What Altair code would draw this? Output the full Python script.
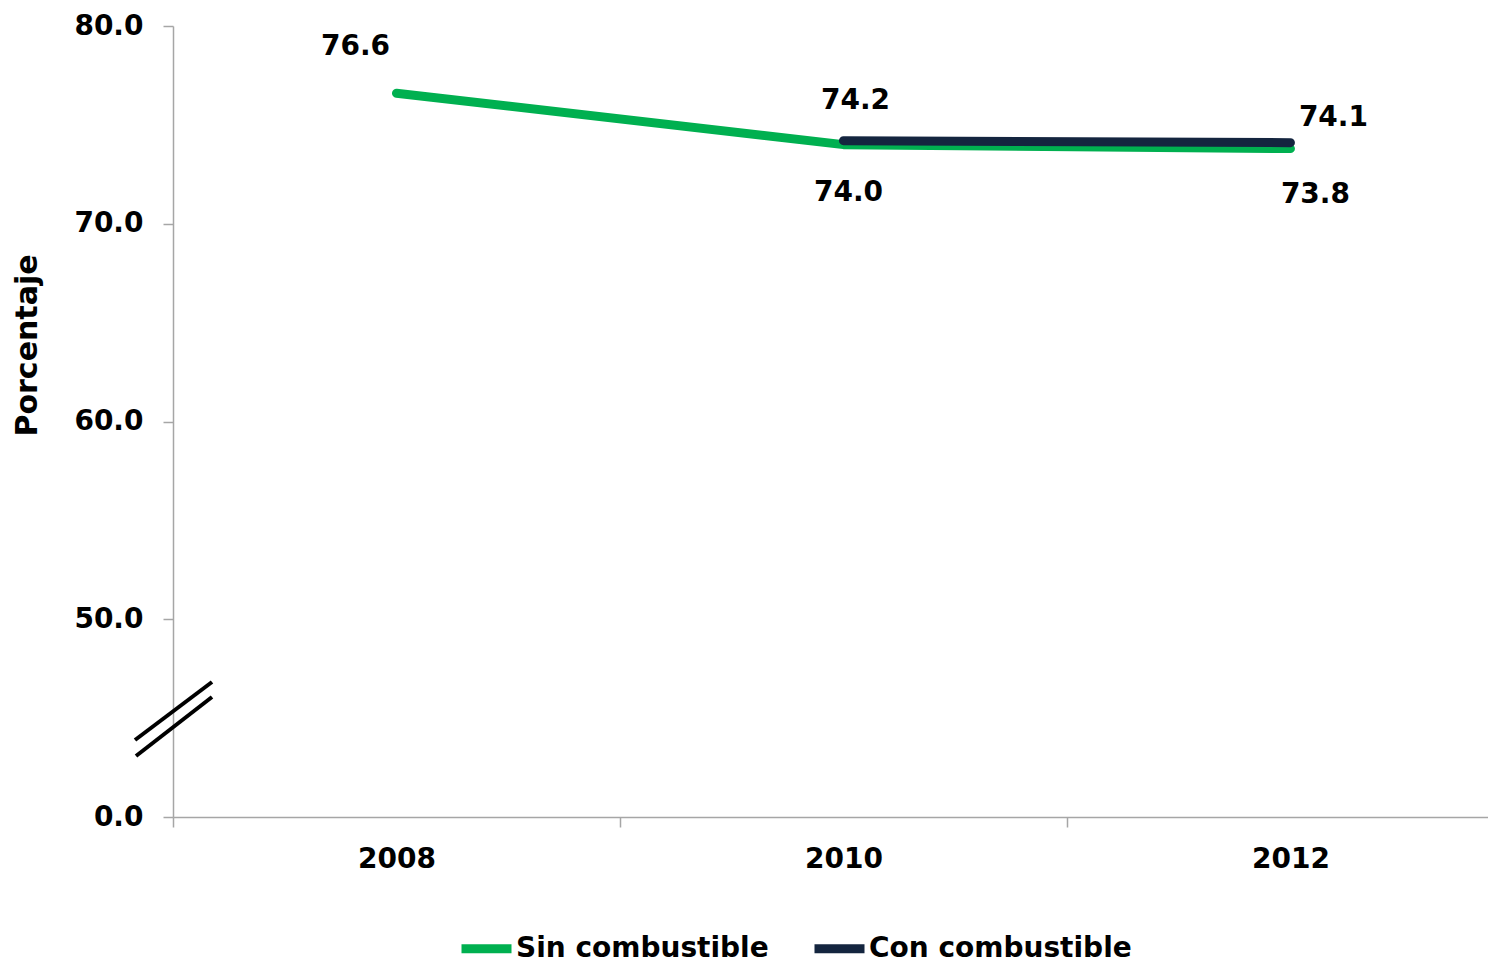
import altair as alt
import pandas as pd

years = [2008, 2010, 2012]
sin_combustible = [76.6, 74.0, 73.8]
con_combustible = [None, 74.2, 74.1]
series_names = ["Sin combustible", "Con combustible"]
colors = ["#00B050", "#14253F"]
y_ticks = [40, 50, 60, 70, 80]
x_ticks = [2007, 2008, 2009, 2010, 2011, 2012]

rows = []
for yr, v in zip(years, sin_combustible):
    if v is not None:
        rows.append({"year": yr, "value": v, "series": series_names[0]})
for yr, v in zip(years, con_combustible):
    if v is not None:
        rows.append({"year": yr, "value": v, "series": series_names[1]})
df = pd.DataFrame(rows)

FONT = "DejaVu Sans"
GRAY = "#a6a6a6"

x_enc = alt.X(
    "year:Q",
    scale=alt.Scale(domain=[2007, 2012.884], nice=False, zero=False),
    axis=alt.Axis(
        values=x_ticks,
        title=None,
        grid=False,
        labelExpr="datum.value % 2 == 0 ? format(datum.value, 'd') : ''",
        tickOpacity={"condition": {"test": "datum.value % 2 == 0", "value": 0}, "value": 1},
        tickSize=10,
        labelPadding=18,
        labelFont=FONT,
        labelFontSize=28,
        labelFontWeight="bold",
        labelColor="black",
        domainColor=GRAY,
        tickColor=GRAY,
        domainWidth=1.5,
        tickWidth=1.5,
    ),
)
y_enc = alt.Y(
    "value:Q",
    scale=alt.Scale(domain=[40, 80], nice=False, zero=False),
    axis=alt.Axis(
        values=y_ticks,
        title="Porcentaje",
        titleFont=FONT,
        titleFontSize=30,
        titleFontWeight="bold",
        titleColor="black",
        titleAngle=-90,
        titleX=-146,
        titleY=319,
        titleAlign="center",
        titleBaseline="middle",
        grid=False,
        labelExpr="datum.value == 40 ? '0.0' : format(datum.value, '.1f')",
        tickSize=10,
        labelPadding=20,
        labelFont=FONT,
        labelFontSize=28,
        labelFontWeight="bold",
        labelColor="black",
        domainColor=GRAY,
        tickColor=GRAY,
        domainWidth=1.5,
        tickWidth=1.5,
    ),
)
color_enc = alt.Color(
    "series:N",
    scale=alt.Scale(domain=series_names, range=colors),
    legend=alt.Legend(
        title=None,
        orient="none",
        legendX=284,
        legendY=893,
        direction="horizontal",
        symbolType="stroke",
        symbolSize=2500,
        symbolStrokeWidth=9,
        labelFont=FONT,
        labelFontSize=28,
        labelFontWeight="bold",
        labelColor="black",
        labelLimit=600,
        columnPadding=27,
        labelOffset=0,
    ),
)

base = alt.Chart(df)

line_sin = base.transform_filter(alt.datum.series == series_names[0]).mark_line(
    strokeWidth=9, strokeCap="round", strokeJoin="round"
).encode(x=x_enc, y=y_enc, color=color_enc)
line_con = base.transform_filter(alt.datum.series == series_names[1]).mark_line(
    strokeWidth=9, strokeCap="round", strokeJoin="round"
).encode(x=x_enc, y=y_enc, color=color_enc)

def label(series, year, dx, dy):
    return base.transform_filter(
        (alt.datum.series == series) & (alt.datum.year == year)
    ).mark_text(
        font=FONT, fontSize=28, fontWeight="bold", color="black",
        align="center", baseline="middle", dx=dx, dy=dy
    ).encode(x="year:Q", y="value:Q", text=alt.Text("value:Q", format=".1f"))

labels = [
    label(series_names[0], 2008, -41, -46),
    label(series_names[0], 2010, 5, 48),
    label(series_names[0], 2012, 25, 46),
    label(series_names[1], 2010, 12, -40),
    label(series_names[1], 2012, 43, -25),
]

brk = alt.Chart(pd.DataFrame({"k": [0]}))
break1 = brk.mark_rule(color="black", strokeWidth=4).encode(
    x=alt.value(-38), x2=alt.value(39), y=alt.value(714), y2=alt.value(656)
)
break2 = brk.mark_rule(color="black", strokeWidth=4).encode(
    x=alt.value(-37), x2=alt.value(39), y=alt.value(730), y2=alt.value(671)
)

chart = alt.layer(line_sin, line_con, *labels, break1, break2).properties(
    width=1315,
    height=791,
    autosize=alt.AutoSizeParams(type="none"),
    padding={"left": 165, "top": 18, "right": 0, "bottom": 151},
).configure_view(stroke=None)

chart.save("out.html", embed_options={"renderer": "svg", "actions": False})
